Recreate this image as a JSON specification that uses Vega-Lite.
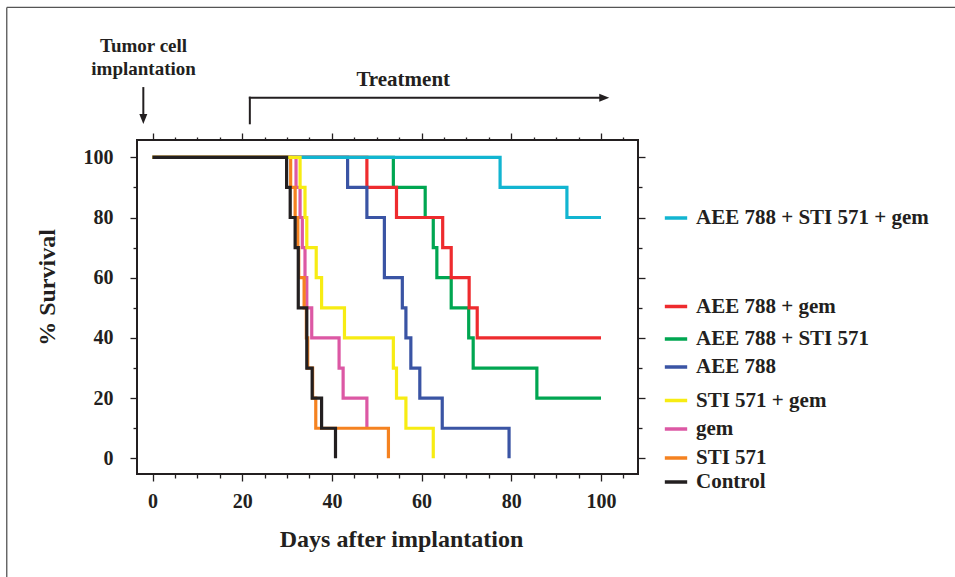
{
  "$schema": "https://vega.github.io/schema/vega-lite/v6.json",
  "autosize": {"type": "none"},
  "width": 501,
  "height": 334,
  "padding": {"left": 137, "top": 140, "right": 317, "bottom": 103},
  "background": "white",
  "datasets": {
    "surv": [
      {"group": "AEE 788 + STI 571 + gem", "day": 0, "pct": 100},
      {"group": "AEE 788 + STI 571 + gem", "day": 77.5, "pct": 90},
      {"group": "AEE 788 + STI 571 + gem", "day": 92.4, "pct": 80},
      {"group": "AEE 788 + STI 571 + gem", "day": 100, "pct": 80},
      {"group": "AEE 788 + gem", "day": 0, "pct": 100},
      {"group": "AEE 788 + gem", "day": 47.8, "pct": 90},
      {"group": "AEE 788 + gem", "day": 54.4, "pct": 80},
      {"group": "AEE 788 + gem", "day": 64.7, "pct": 70},
      {"group": "AEE 788 + gem", "day": 66.6, "pct": 60},
      {"group": "AEE 788 + gem", "day": 70.6, "pct": 50},
      {"group": "AEE 788 + gem", "day": 72.4, "pct": 40},
      {"group": "AEE 788 + gem", "day": 100, "pct": 40},
      {"group": "AEE 788 + STI 571", "day": 0, "pct": 100},
      {"group": "AEE 788 + STI 571", "day": 53.7, "pct": 90},
      {"group": "AEE 788 + STI 571", "day": 60.8, "pct": 80},
      {"group": "AEE 788 + STI 571", "day": 62.6, "pct": 70},
      {"group": "AEE 788 + STI 571", "day": 63.4, "pct": 60},
      {"group": "AEE 788 + STI 571", "day": 66.6, "pct": 50},
      {"group": "AEE 788 + STI 571", "day": 70.5, "pct": 40},
      {"group": "AEE 788 + STI 571", "day": 71.5, "pct": 30},
      {"group": "AEE 788 + STI 571", "day": 85.7, "pct": 20},
      {"group": "AEE 788 + STI 571", "day": 100, "pct": 20},
      {"group": "AEE 788", "day": 0, "pct": 100},
      {"group": "AEE 788", "day": 43.5, "pct": 90},
      {"group": "AEE 788", "day": 47.8, "pct": 80},
      {"group": "AEE 788", "day": 51.7, "pct": 60},
      {"group": "AEE 788", "day": 55.7, "pct": 50},
      {"group": "AEE 788", "day": 56.5, "pct": 40},
      {"group": "AEE 788", "day": 57.6, "pct": 30},
      {"group": "AEE 788", "day": 59.6, "pct": 20},
      {"group": "AEE 788", "day": 64.6, "pct": 10},
      {"group": "AEE 788", "day": 79.5, "pct": 0},
      {"group": "STI 571 + gem", "day": 0, "pct": 100},
      {"group": "STI 571 + gem", "day": 32.9, "pct": 90},
      {"group": "STI 571 + gem", "day": 34.0, "pct": 80},
      {"group": "STI 571 + gem", "day": 34.4, "pct": 70},
      {"group": "STI 571 + gem", "day": 36.5, "pct": 60},
      {"group": "STI 571 + gem", "day": 37.7, "pct": 50},
      {"group": "STI 571 + gem", "day": 42.8, "pct": 40},
      {"group": "STI 571 + gem", "day": 53.7, "pct": 30},
      {"group": "STI 571 + gem", "day": 54.4, "pct": 20},
      {"group": "STI 571 + gem", "day": 56.5, "pct": 10},
      {"group": "STI 571 + gem", "day": 62.6, "pct": 0},
      {"group": "gem", "day": 0, "pct": 100},
      {"group": "gem", "day": 32.0, "pct": 90},
      {"group": "gem", "day": 32.9, "pct": 80},
      {"group": "gem", "day": 33.4, "pct": 70},
      {"group": "gem", "day": 34.0, "pct": 60},
      {"group": "gem", "day": 34.4, "pct": 50},
      {"group": "gem", "day": 35.5, "pct": 40},
      {"group": "gem", "day": 41.6, "pct": 30},
      {"group": "gem", "day": 42.5, "pct": 20},
      {"group": "gem", "day": 47.8, "pct": 10},
      {"group": "STI 571", "day": 0, "pct": 100},
      {"group": "STI 571", "day": 30.8, "pct": 90},
      {"group": "STI 571", "day": 31.8, "pct": 80},
      {"group": "STI 571", "day": 32.4, "pct": 70},
      {"group": "STI 571", "day": 32.6, "pct": 60},
      {"group": "STI 571", "day": 33.8, "pct": 50},
      {"group": "STI 571", "day": 34.3, "pct": 40},
      {"group": "STI 571", "day": 34.6, "pct": 30},
      {"group": "STI 571", "day": 35.7, "pct": 20},
      {"group": "STI 571", "day": 36.4, "pct": 10},
      {"group": "STI 571", "day": 52.6, "pct": 0},
      {"group": "Control", "day": 0, "pct": 100},
      {"group": "Control", "day": 29.9, "pct": 90},
      {"group": "Control", "day": 30.7, "pct": 80},
      {"group": "Control", "day": 31.8, "pct": 70},
      {"group": "Control", "day": 32.5, "pct": 50},
      {"group": "Control", "day": 34.4, "pct": 30},
      {"group": "Control", "day": 35.6, "pct": 20},
      {"group": "Control", "day": 37.7, "pct": 10},
      {"group": "Control", "day": 40.8, "pct": 0}
    ],
    "arrows": [
      {"day": -2.05, "pct": 123.0, "day2": -2.05, "pct2": 114.0},
      {"day": 21.7, "pct": 111.3, "day2": 21.7, "pct2": 119.8},
      {"day": 21.7, "pct": 119.8, "day2": 100.2, "pct2": 119.8}
    ],
    "headDown": [{"day": -2.05, "pct": 112.75}],
    "headRight": [{"day": 100.73, "pct": 119.8}],
    "frame": [
      {"day": -32.5, "pct": 149.8, "day2": 200, "pct2": 149.8},
      {"day": -32.5, "pct": 149.8, "day2": -32.5, "pct2": -45}
    ],
    "notes": [
      {"text": "Tumor cell", "day": -2, "pct": 137.0},
      {"text": "implantation", "day": -2, "pct": 129.3}
    ],
    "notes2": [{"text": "Treatment", "day": 55.9, "pct": 125.7}]
  },
  "layer": [
    {
      "data": {"name": "surv"},
      "transform": [{"filter": "datum.group === 'AEE 788 + STI 571'"}],
      "mark": {"type": "line", "interpolate": "step-after", "strokeWidth": 3.2, "strokeJoin": "miter", "strokeCap": "butt"},
      "encoding": {
        "x": {"field": "day", "type": "quantitative", "scale": {"domain": [-3.46, 108.25], "nice": false, "zero": false},
          "axis": {"orient": "bottom", "values": [0,5,10,15,20,25,30,35,40,45,50,55,60,65,70,75,80,85,90,95,100,105],
            "labelExpr": "datum.value % 20 === 0 ? datum.label : ''",
            "tickSize": {"condition": {"test": "datum.value % 20 === 0", "value": 7}, "value": 4},
            "domain": false, "grid": false, "labelPadding": 10, "labelOverlap": false, "labelFlush": false,
            "title": "Days after implantation", "titleX": 264, "titleY": 65, "titleBaseline": "middle", "titleAlign": "center"}},
        "y": {"field": "pct", "type": "quantitative", "scale": {"domain": [-5.2, 105.75], "nice": false, "zero": false},
          "axis": {"orient": "left", "values": [0,10,20,30,40,50,60,70,80,90,100],
            "labelExpr": "datum.value % 20 === 0 ? datum.label : ''",
            "tickSize": {"condition": {"test": "datum.value % 20 === 0", "value": 7}, "value": 4},
            "domain": false, "grid": false, "labelPadding": 17, "labelOverlap": false, "labelFlush": false,
            "title": "% Survival", "titleX": -90, "titleY": 147, "titleBaseline": "middle", "titleAlign": "center", "titleAngle": -90}},
        "color": {"field": "group", "type": "nominal", "scale": {"domain": ["AEE 788 + STI 571"], "range": ["#00a651"]},
          "legend": {"title": null, "legendX": 526, "legendY": 186}}
      }
    },
    {
      "data": {"name": "surv"},
      "transform": [{"filter": "datum.group === 'AEE 788 + gem'"}],
      "mark": {"type": "line", "interpolate": "step-after", "strokeWidth": 3.2, "strokeJoin": "miter", "strokeCap": "butt"},
      "encoding": {
        "x": {"field": "day", "type": "quantitative", "scale": {"domain": [-3.46, 108.25], "nice": false, "zero": false}, "axis": null},
        "y": {"field": "pct", "type": "quantitative", "scale": {"domain": [-5.2, 105.75], "nice": false, "zero": false}, "axis": null},
        "color": {"field": "group", "type": "nominal", "scale": {"domain": ["AEE 788 + gem"], "range": ["#ee2b2e"]},
          "legend": {"title": null, "legendX": 526, "legendY": 153.5}}
      }
    },
    {
      "data": {"name": "surv"},
      "transform": [{"filter": "datum.group === 'AEE 788'"}],
      "mark": {"type": "line", "interpolate": "step-after", "strokeWidth": 3.2, "strokeJoin": "miter", "strokeCap": "butt"},
      "encoding": {
        "x": {"field": "day", "type": "quantitative", "scale": {"domain": [-3.46, 108.25], "nice": false, "zero": false}, "axis": null},
        "y": {"field": "pct", "type": "quantitative", "scale": {"domain": [-5.2, 105.75], "nice": false, "zero": false}, "axis": null},
        "color": {"field": "group", "type": "nominal", "scale": {"domain": ["AEE 788"], "range": ["#3a54a4"]},
          "legend": {"title": null, "legendX": 526, "legendY": 214}}
      }
    },
    {
      "data": {"name": "surv"},
      "transform": [{"filter": "datum.group === 'AEE 788 + STI 571 + gem'"}],
      "mark": {"type": "line", "interpolate": "step-after", "strokeWidth": 3.2, "strokeJoin": "miter", "strokeCap": "butt"},
      "encoding": {
        "x": {"field": "day", "type": "quantitative", "scale": {"domain": [-3.46, 108.25], "nice": false, "zero": false}, "axis": null},
        "y": {"field": "pct", "type": "quantitative", "scale": {"domain": [-5.2, 105.75], "nice": false, "zero": false}, "axis": null},
        "color": {"field": "group", "type": "nominal", "scale": {"domain": ["AEE 788 + STI 571 + gem"], "range": ["#12b5d1"]},
          "legend": {"title": null, "legendX": 526, "legendY": 65}}
      }
    },
    {
      "data": {"name": "surv"},
      "transform": [{"filter": "datum.group === 'gem'"}],
      "mark": {"type": "line", "interpolate": "step-after", "strokeWidth": 3.2, "strokeJoin": "miter", "strokeCap": "butt"},
      "encoding": {
        "x": {"field": "day", "type": "quantitative", "scale": {"domain": [-3.46, 108.25], "nice": false, "zero": false}, "axis": null},
        "y": {"field": "pct", "type": "quantitative", "scale": {"domain": [-5.2, 105.75], "nice": false, "zero": false}, "axis": null},
        "color": {"field": "group", "type": "nominal", "scale": {"domain": ["gem"], "range": ["#dc58a4"]},
          "legend": {"title": null, "legendX": 526, "legendY": 276}}
      }
    },
    {
      "data": {"name": "surv"},
      "transform": [{"filter": "datum.group === 'STI 571'"}],
      "mark": {"type": "line", "interpolate": "step-after", "strokeWidth": 3.2, "strokeJoin": "miter", "strokeCap": "butt"},
      "encoding": {
        "x": {"field": "day", "type": "quantitative", "scale": {"domain": [-3.46, 108.25], "nice": false, "zero": false}, "axis": null},
        "y": {"field": "pct", "type": "quantitative", "scale": {"domain": [-5.2, 105.75], "nice": false, "zero": false}, "axis": null},
        "color": {"field": "group", "type": "nominal", "scale": {"domain": ["STI 571"], "range": ["#f58220"]},
          "legend": {"title": null, "legendX": 526, "legendY": 305}}
      }
    },
    {
      "data": {"name": "surv"},
      "transform": [{"filter": "datum.group === 'STI 571 + gem'"}],
      "mark": {"type": "line", "interpolate": "step-after", "strokeWidth": 3.2, "strokeJoin": "miter", "strokeCap": "butt"},
      "encoding": {
        "x": {"field": "day", "type": "quantitative", "scale": {"domain": [-3.46, 108.25], "nice": false, "zero": false}, "axis": null},
        "y": {"field": "pct", "type": "quantitative", "scale": {"domain": [-5.2, 105.75], "nice": false, "zero": false}, "axis": null},
        "color": {"field": "group", "type": "nominal", "scale": {"domain": ["STI 571 + gem"], "range": ["#f7ec13"]},
          "legend": {"title": null, "legendX": 526, "legendY": 247.5}}
      }
    },
    {
      "data": {"name": "surv"},
      "transform": [{"filter": "datum.group === 'Control'"}],
      "mark": {"type": "line", "interpolate": "step-after", "strokeWidth": 3.2, "strokeJoin": "miter", "strokeCap": "butt"},
      "encoding": {
        "x": {"field": "day", "type": "quantitative", "scale": {"domain": [-3.46, 108.25], "nice": false, "zero": false}, "axis": null},
        "y": {"field": "pct", "type": "quantitative", "scale": {"domain": [-5.2, 105.75], "nice": false, "zero": false}, "axis": null},
        "color": {"field": "group", "type": "nominal", "scale": {"domain": ["Control"], "range": ["#231f20"]},
          "legend": {"title": null, "legendX": 526, "legendY": 329}}
      }
    },
    {
      "data": {"name": "arrows"},
      "mark": {"type": "rule", "color": "#231f20", "strokeWidth": 2, "strokeCap": "square"},
      "encoding": {
        "x": {"field": "day", "type": "quantitative", "scale": {"domain": [-3.46, 108.25], "nice": false, "zero": false}, "axis": null},
        "x2": {"field": "day2"},
        "y": {"field": "pct", "type": "quantitative", "scale": {"domain": [-5.2, 105.75], "nice": false, "zero": false}, "axis": null},
        "y2": {"field": "pct2"}
      }
    },
    {
      "data": {"name": "frame"},
      "mark": {"type": "rule", "color": "#555555", "strokeWidth": 1.3},
      "encoding": {
        "x": {"field": "day", "type": "quantitative", "scale": {"domain": [-3.46, 108.25], "nice": false, "zero": false}, "axis": null},
        "x2": {"field": "day2"},
        "y": {"field": "pct", "type": "quantitative", "scale": {"domain": [-5.2, 105.75], "nice": false, "zero": false}, "axis": null},
        "y2": {"field": "pct2"}
      }
    },
    {
      "data": {"name": "headDown"},
      "mark": {"type": "point", "shape": "M-0.8,-1L0.8,-1L0,1Z", "filled": true, "color": "#231f20", "size": 100, "opacity": 1},
      "encoding": {
        "x": {"field": "day", "type": "quantitative", "scale": {"domain": [-3.46, 108.25], "nice": false, "zero": false}, "axis": null},
        "y": {"field": "pct", "type": "quantitative", "scale": {"domain": [-5.2, 105.75], "nice": false, "zero": false}, "axis": null}
      }
    },
    {
      "data": {"name": "headRight"},
      "mark": {"type": "point", "shape": "M-1,-0.8L1,0L-1,0.8Z", "filled": true, "color": "#231f20", "size": 100, "opacity": 1},
      "encoding": {
        "x": {"field": "day", "type": "quantitative", "scale": {"domain": [-3.46, 108.25], "nice": false, "zero": false}, "axis": null},
        "y": {"field": "pct", "type": "quantitative", "scale": {"domain": [-5.2, 105.75], "nice": false, "zero": false}, "axis": null}
      }
    },
    {
      "data": {"name": "notes"},
      "mark": {"type": "text", "font": "Liberation Serif", "fontWeight": "bold", "fontSize": 19, "color": "#231f20", "align": "center", "baseline": "middle"},
      "encoding": {
        "x": {"field": "day", "type": "quantitative", "scale": {"domain": [-3.46, 108.25], "nice": false, "zero": false},
          "axis": {"orient": "top", "values": [0,5,10,15,20,25,30,35,40,45,50,55,60,65,70,75,80,85,90,95,100,105],
            "labels": false, "domain": false, "grid": false, "title": null,
            "tickSize": {"condition": {"test": "datum.value % 20 === 0", "value": 7}, "value": 3}}},
        "y": {"field": "pct", "type": "quantitative", "scale": {"domain": [-5.2, 105.75], "nice": false, "zero": false},
          "axis": {"orient": "right", "values": [0,10,20,30,40,50,60,70,80,90,100],
            "labels": false, "domain": false, "grid": false, "title": null,
            "tickSize": {"condition": {"test": "datum.value % 20 === 0", "value": 7}, "value": 4}}},
        "text": {"field": "text"}
      }
    },
    {
      "data": {"name": "notes2"},
      "mark": {"type": "text", "font": "Liberation Serif", "fontWeight": "bold", "fontSize": 21, "color": "#231f20", "align": "center", "baseline": "middle"},
      "encoding": {
        "x": {"field": "day", "type": "quantitative", "scale": {"domain": [-3.46, 108.25], "nice": false, "zero": false}, "axis": null},
        "y": {"field": "pct", "type": "quantitative", "scale": {"domain": [-5.2, 105.75], "nice": false, "zero": false}, "axis": null},
        "text": {"field": "text"}
      }
    }
  ],
  "resolve": {
    "scale": {"color": "independent"},
    "axis": {"x": "independent", "y": "independent"}
  },
  "config": {
    "view": {"stroke": "#231f20", "strokeWidth": 2},
    "font": "Liberation Serif",
    "axis": {
      "labelFont": "Liberation Serif", "labelFontSize": 20, "labelFontWeight": "bold", "labelColor": "#231f20",
      "titleFont": "Liberation Serif", "titleFontSize": 24, "titleFontWeight": "bold", "titleColor": "#231f20",
      "tickColor": "#231f20", "tickWidth": 1.3
    },
    "legend": {
      "orient": "none", "symbolType": "stroke", "symbolSize": 500, "symbolStrokeWidth": 3.5,
      "labelFont": "Liberation Serif", "labelFontSize": 21, "labelFontWeight": "bold", "labelColor": "#231f20",
      "labelOffset": 7, "labelLimit": 400, "padding": 0
    }
  }
}
